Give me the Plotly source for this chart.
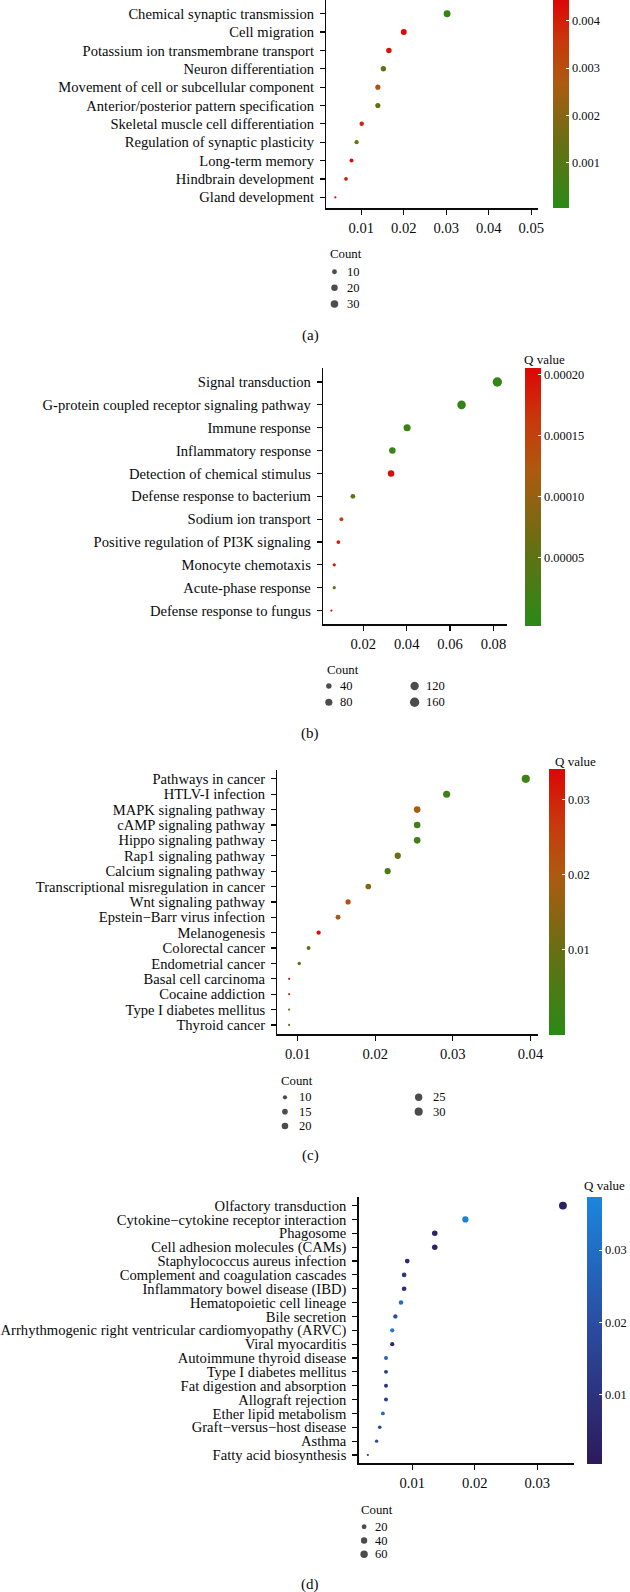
import math
import plotly.graph_objects as go

W, H = 630, 1592
FONT = "Liberation Serif, Times New Roman, serif"
INK = "#0a0a0a"

# ---------------- data ----------------
cats_a = ["Chemical synaptic transmission", "Cell migration",
          "Potassium ion transmembrane transport", "Neuron differentiation",
          "Movement of cell or subcellular component",
          "Anterior/posterior pattern specification",
          "Skeletal muscle cell differentiation",
          "Regulation of synaptic plasticity", "Long-term memory",
          "Hindbrain development", "Gland development"]
ratio_a = [0.0302, 0.0200, 0.0165, 0.0152, 0.0139, 0.0139, 0.0101, 0.0089, 0.0077, 0.0064, 0.0039]
count_a = [24, 16, 13, 12, 11, 11, 8, 7, 6, 5, 3]
q_a = [0.0003, 0.0044, 0.0042, 0.0013, 0.0030, 0.0011, 0.0038, 0.0015, 0.0043, 0.0042, 0.0044]
breaks_a = [10, 20, 30]

cats_b = ["Signal transduction", "G-protein coupled receptor signaling pathway",
          "Immune response", "Inflammatory response",
          "Detection of chemical stimulus", "Defense response to bacterium",
          "Sodium ion transport", "Positive regulation of PI3K signaling",
          "Monocyte chemotaxis", "Acute-phase response",
          "Defense response to fungus"]
ratio_b = [0.0818, 0.0653, 0.0402, 0.0334, 0.0328, 0.0152, 0.0099, 0.0085, 0.0066, 0.0066, 0.0053]
count_b = [160, 128, 79, 65, 64, 30, 19, 17, 13, 13, 10]
q_b = [0.000005, 0.000008, 0.000010, 0.000012, 0.000200, 0.000045,
       0.000150, 0.000190, 0.000195, 0.000070, 0.000200]
breaks_b = [40, 80, 120, 160]

cats_c = ["Pathways in cancer", "HTLV-I infection", "MAPK signaling pathway",
          "cAMP signaling pathway", "Hippo signaling pathway",
          "Rap1 signaling pathway", "Calcium signaling pathway",
          "Transcriptional misregulation in cancer", "Wnt signaling pathway",
          "Epstein\u2212Barr virus infection", "Melanogenesis",
          "Colorectal cancer", "Endometrial cancer", "Basal cell carcinoma",
          "Cocaine addiction", "Type I diabetes mellitus", "Thyroid cancer"]
ratio_c = [0.0394, 0.0292, 0.0254, 0.0254, 0.0254, 0.0229, 0.0216, 0.0191, 0.0165,
           0.0152, 0.0127, 0.0114, 0.0102, 0.0089, 0.0089, 0.0089, 0.0089]
count_c = [31, 23, 20, 20, 20, 18, 17, 15, 13, 12, 10, 9, 8, 7, 7, 7, 7]
q_c = [0.002, 0.002, 0.019, 0.003, 0.003, 0.010, 0.005, 0.014, 0.022,
       0.021, 0.033, 0.007, 0.006, 0.033, 0.027, 0.008, 0.006]
breaks_c = [10, 15, 20, 25, 30]

cats_d = ["Olfactory transduction", "Cytokine\u2212cytokine receptor interaction",
          "Phagosome", "Cell adhesion molecules (CAMs)",
          "Staphylococcus aureus infection", "Complement and coagulation cascades",
          "Inflammatory bowel disease (IBD)", "Hematopoietic cell lineage",
          "Bile secretion", "Arrhythmogenic right ventricular cardiomyopathy (ARVC)",
          "Viral myocarditis", "Autoimmune thyroid disease",
          "Type I diabetes mellitus", "Fat digestion and absorption",
          "Allograft rejection", "Ether lipid metabolism",
          "Graft\u2212versus\u2212host disease", "Asthma", "Fatty acid biosynthesis"]
ratio_d = [0.0341, 0.0185, 0.0136, 0.0136, 0.0092, 0.0087, 0.0087, 0.0082, 0.0073,
           0.0068, 0.0068, 0.0058, 0.0058, 0.0058, 0.0058, 0.0053, 0.0048, 0.0043, 0.0029]
count_d = [70, 38, 28, 28, 19, 18, 18, 17, 15, 14, 14, 12, 12, 12, 12, 11, 10, 9, 6]
q_d = [0.003, 0.036, 0.004, 0.004, 0.007, 0.012, 0.008, 0.030, 0.020, 0.034,
       0.006, 0.026, 0.013, 0.010, 0.014, 0.028, 0.016, 0.020, 0.012]
breaks_d = [20, 40, 60]

# ---------------- styles ----------------
GREEN_RED = [[0, '#2a8a16'], [0.3, '#647014'], [0.6, '#ad5a10'], [0.8, '#c8380c'], [1, '#dc0606']]
BLUE_PURPLE = [[0, '#2d1a5a'], [0.5, '#2b4a9f'], [1, '#1a86de']]


def fx(p):
    return p / W


def fy(p):
    return 1 - p / H


def diam(counts, lo, hi, dmax, d0=2.2):
    return [d0 + (dmax - d0) * math.sqrt(max(0.0, c - lo) / (hi - lo)) for c in counts]


panels = [
    dict(cats=cats_a, ratio=ratio_a, count=count_a, q=q_a, breaks=breaks_a,
         top=0.0, bottom=208.3, left=329.4, right=543.2, top_idx=-0.746,
         xrange=[0.00176, 0.0516], xticks=[0.01, 0.02, 0.03, 0.04, 0.05],
         cs=GREEN_RED, cmin=0.000042, cmax=0.00444, cbx=558.5, cbtop=0.0, cbbot=208.3, cbw=16,
         cbticks=[0.001, 0.002, 0.003, 0.004], cbtext=["0.001", "0.002", "0.003", "0.004"],
         qtitle=None, slim=(3, 38), dmax=8.3, fs=14.6,
         leg=dict(title=(331.5, 254.3), x0=337.7, y0=271.7, sp=16.15, rows=3, colgap=0, dx=10.5),
         letter="(a)", lety=335),
    dict(cats=cats_b, ratio=ratio_b, count=count_b, q=q_b, breaks=breaks_b,
         top=368.3, bottom=624.3, left=326.2, right=512.2, top_idx=-0.6,
         xrange=[0.00146, 0.0864], xticks=[0.02, 0.04, 0.06, 0.08],
         cs=GREEN_RED, cmin=-0.000006, cmax=0.000205, cbx=530, cbtop=368.3, cbbot=626.0, cbw=16,
         cbticks=[0.00005, 0.0001, 0.00015, 0.0002],
         cbtext=["0.00005", "0.00010", "0.00015", "0.00020"],
         qtitle=(527.5, 360), slim=(10, 160), dmax=9.4, fs=14.6,
         leg=dict(title=(328.6, 670), x0=332, y0=686, sp=16.3, rows=2, colgap=86.6, dx=9.5),
         letter="(b)", lety=733.3),
    dict(cats=cats_c, ratio=ratio_c, count=count_c, q=q_c, breaks=breaks_c,
         top=769.6, bottom=1034.2, left=280.0, right=543.6, top_idx=-0.6,
         xrange=[0.00738, 0.04103], xticks=[0.01, 0.02, 0.03, 0.04],
         cs=GREEN_RED, cmin=-0.00147, cmax=0.03415, cbx=554.0, cbtop=769.0, cbbot=1035.0, cbw=16,
         cbticks=[0.01, 0.02, 0.03], cbtext=["0.01", "0.02", "0.03"],
         qtitle=(558.3, 761.7), slim=(7, 31), dmax=8.2, fs=14.6,
         leg=dict(title=(281.2, 1080.7), x0=287.7, y0=1097.3, sp=14.35, rows=3, colgap=135, dx=12.5),
         letter="(c)", lety=1155),
    dict(cats=cats_d, ratio=ratio_d, count=count_d, q=q_d, breaks=breaks_d,
         top=1197.3, bottom=1463.3, left=362.0, right=579.7, top_idx=-0.6,
         xrange=[0.00141, 0.0359], xticks=[0.01, 0.02, 0.03],
         cs=BLUE_PURPLE, cmin=0.00038, cmax=0.0374, cbx=592.3, cbtop=1196.7, cbbot=1463.3, cbw=14.5,
         cbticks=[0.01, 0.02, 0.03], cbtext=["0.01", "0.02", "0.03"],
         qtitle=(587.6, 1185), slim=(6, 70), dmax=7.9, fs=14.6,
         leg=dict(title=(362.4, 1510), x0=367.6, y0=1526.7, sp=13.8, rows=3, colgap=0, dx=8.5),
         letter="(d)", lety=1584),
]

fig = go.Figure()
layout = dict(
    width=W, height=H, margin=dict(l=0, r=0, t=0, b=0),
    paper_bgcolor="white", plot_bgcolor="white", showlegend=False,
    font=dict(family=FONT, color=INK, size=13),
)
annotations = []

for i, p in enumerate(panels, start=1):
    n = len(p["cats"])
    sx = "" if i == 1 else str(i)
    ca = "coloraxis" if i == 1 else "coloraxis%d" % i
    fig.add_trace(go.Scatter(
        x=p["ratio"], y=p["cats"], mode="markers",
        xaxis="x" + sx, yaxis="y" + sx,
        marker=dict(color=p["q"], coloraxis=ca,
                    size=diam(p["count"], p["slim"][0], p["slim"][1], p["dmax"]),
                    sizemode="diameter", line=dict(width=0), opacity=1),
        hoverinfo="skip", cliponaxis=True))
    layout["xaxis" + sx] = dict(
        domain=[fx(p["left"]), fx(p["right"])], anchor="y" + sx,
        range=p["xrange"], tickvals=p["xticks"], tickformat=".2f",
        showgrid=False, zeroline=False, showline=True, linecolor=INK, linewidth=1.3,
        ticks="outside", ticklen=5, tickwidth=1.2, tickcolor=INK,
        tickfont=dict(family=FONT, size=p["fs"], color=INK), ticklabelstandoff=1,
        automargin=False, fixedrange=True)
    layout["yaxis" + sx] = dict(
        domain=[fy(p["bottom"]), fy(p["top"])], anchor="x" + sx,
        type="category", categoryorder="array", categoryarray=p["cats"],
        tickmode="array", tickvals=p["cats"], ticktext=p["cats"],
        range=[n - 1 + 0.6, p["top_idx"]],
        showgrid=False, zeroline=False, showline=True, linecolor=INK, linewidth=1.3,
        ticks="outside", ticklen=5, tickwidth=1.2, tickcolor=INK,
        tickfont=dict(family=FONT, size=p["fs"], color=INK), ticklabelstandoff=3,
        automargin=False, fixedrange=True)
    cblen = p["cbbot"] - p["cbtop"]
    layout[ca] = dict(
        cmin=p["cmin"], cmax=p["cmax"], colorscale=p["cs"],
        colorbar=dict(x=fx(p["cbx"]), xanchor="left", xpad=0,
                      y=fy(p["cbtop"]), yanchor="top", ypad=0,
                      len=cblen, lenmode="pixels", thickness=p["cbw"], thicknessmode="pixels",
                      outlinewidth=0, tickvals=p["cbticks"], ticktext=p["cbtext"],
                      ticks="inside", ticklen=3, tickwidth=1, tickcolor="white",
                      tickfont=dict(family=FONT, size=12.4, color=INK)))
    if p["qtitle"]:
        annotations.append(dict(text="Q value", x=fx(p["qtitle"][0]), y=fy(p["qtitle"][1]),
                                xref="paper", yref="paper", xanchor="left", yanchor="middle",
                                showarrow=False, font=dict(family=FONT, size=13, color=INK)))
    annotations.append(dict(text=p["letter"], x=fx(313.4), y=fy(p["lety"]),
                            xref="paper", yref="paper", xanchor="center", yanchor="middle",
                            showarrow=False, font=dict(family=FONT, size=15, color=INK)))

    # size legend drawn on a hidden helper axis pair
    lg = p["leg"]
    k = i + 4
    lx, ly = "x%d" % k, "y%d" % k
    rows = lg["rows"]
    cols = [j // rows for j in range(len(p["breaks"]))]
    rws = [j % rows for j in range(len(p["breaks"]))]
    fig.add_trace(go.Scatter(
        x=[c * lg["colgap"] for c in cols], y=rws, mode="markers",
        xaxis=lx, yaxis=ly,
        marker=dict(color="#000000", size=diam(p["breaks"], p["slim"][0], p["slim"][1], p["dmax"]),
                    sizemode="diameter", line=dict(width=0)),
        hoverinfo="skip", cliponaxis=False))
    ytop = lg["y0"] - lg["sp"] / 2
    layout["xaxis%d" % k] = dict(domain=[fx(lg["x0"]), fx(lg["x0"] + 200)], range=[0, 200],
                                 visible=False, anchor=ly, fixedrange=True)
    layout["yaxis%d" % k] = dict(domain=[fy(ytop + rows * lg["sp"]), fy(ytop)],
                                 range=[rows - 0.5, -0.5], visible=False, anchor=lx,
                                 fixedrange=True)
    for b, c, r in zip(p["breaks"], cols, rws):
        annotations.append(dict(text=str(b), x=c * lg["colgap"] + lg["dx"], y=r,
                                xref=lx, yref=ly, xanchor="left", yanchor="middle",
                                showarrow=False, font=dict(family=FONT, size=12.5, color=INK)))
    annotations.append(dict(text="Count", x=fx(lg["title"][0]), y=fy(lg["title"][1]),
                            xref="paper", yref="paper", xanchor="left", yanchor="middle",
                            showarrow=False, font=dict(family=FONT, size=12.8, color=INK)))

layout["annotations"] = annotations
fig.update_layout(**layout)
fig.write_html("out.html",
               config={"displayModeBar": False, "staticPlot": True},
               post_script="document.body.style.margin='0';document.body.style.padding='0';"
                           "document.documentElement.style.overflow='hidden';")
